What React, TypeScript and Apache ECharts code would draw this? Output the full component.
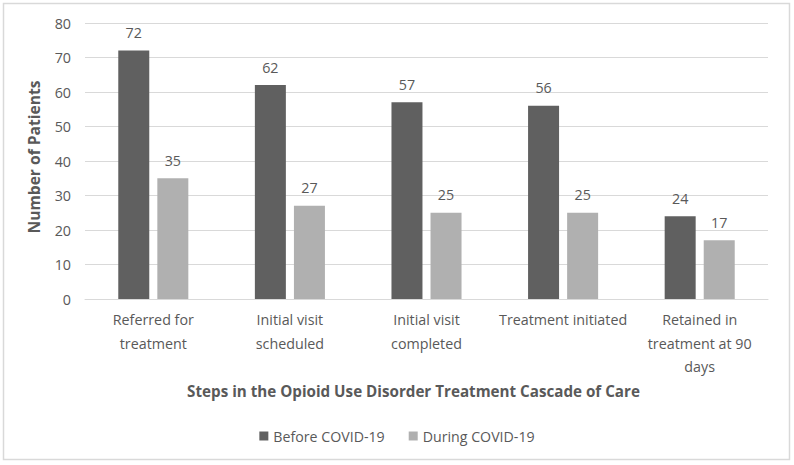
import React, { useEffect, useRef } from "react";
import * as echarts from "echarts";

const categories = [
  "Referred for\ntreatment",
  "Initial visit\nscheduled",
  "Initial visit\ncompleted",
  "Treatment initiated",
  "Retained in\ntreatment at 90\ndays",
];
const beforeCovid = [72, 62, 57, 56, 24];
const duringCovid = [35, 27, 25, 25, 17];
const seriesNames = ["Before COVID-19", "During COVID-19"];
const yTicks = { min: 0, max: 80, interval: 10 };

const FONT = "'Open Sans', sans-serif";
const TEXT = "#595959";

export default function App() {
  const ref = useRef<HTMLDivElement>(null);
  useEffect(() => {
    if (!ref.current) return;
    const chart = echarts.init(ref.current, undefined, { renderer: "svg" });
    chart.setOption({
      animation: false,
      backgroundColor: "#ffffff",
      textStyle: { fontFamily: FONT, color: TEXT },
      graphic: [
        {
          type: "rect",
          shape: { x: 3.5, y: 3.5, width: 786, height: 456 },
          style: { fill: "none", stroke: "#d9d9d9", lineWidth: 1.5 },
          silent: true,
        },
      ],
      grid: { left: 85, right: 26, top: 23, bottom: 166 },
      legend: {
        bottom: 17,
        left: "center",
        itemWidth: 9,
        itemHeight: 9,
        itemGap: 24,
        icon: "rect",
        textStyle: { fontFamily: FONT, color: TEXT, fontSize: 14.2 },
        data: seriesNames,
      },
      xAxis: {
        type: "category",
        data: categories,
        name: "Steps in the Opioid Use Disorder Treatment Cascade of Care",
        nameLocation: "middle",
        nameGap: 76,
        nameTextStyle: {
          fontFamily: FONT,
          color: TEXT,
          fontSize: 15.2,
          fontWeight: "bold",
          padding: [0, 26, 0, 0],
        },
        axisLine: { lineStyle: { color: "#d9d9d9", width: 1 } },
        axisTick: { show: false },
        axisLabel: {
          fontFamily: FONT,
          color: TEXT,
          fontSize: 14.3,
          lineHeight: 23.5,
          margin: 9,
          interval: 0,
        },
      },
      yAxis: {
        type: "value",
        min: yTicks.min,
        max: yTicks.max,
        interval: yTicks.interval,
        name: "Number of Patients",
        nameLocation: "middle",
        nameGap: 43,
        nameTextStyle: {
          fontFamily: FONT,
          color: TEXT,
          fontSize: 15.6,
          fontWeight: "bold",
          padding: [0, 0, 0, 8],
        },
        axisLine: { show: false },
        axisTick: { show: false },
        axisLabel: { fontFamily: FONT, color: TEXT, fontSize: 14.3, margin: 14 },
        splitLine: { lineStyle: { color: "#d9d9d9", width: 1 } },
      },
      series: [
        {
          name: seriesNames[0],
          type: "bar",
          data: beforeCovid,
          barWidth: 31,
          barGap: "26%",
          itemStyle: { color: "#606060" },
          label: {
            show: true,
            position: "top",
            distance: 11,
            fontFamily: FONT,
            color: TEXT,
            fontSize: 14.3,
          },
        },
        {
          name: seriesNames[1],
          type: "bar",
          data: duringCovid,
          barWidth: 31,
          barGap: "26%",
          itemStyle: { color: "#b0b0b0" },
          label: {
            show: true,
            position: "top",
            distance: 11,
            fontFamily: FONT,
            color: TEXT,
            fontSize: 14.3,
          },
        },
      ],
    });
    return () => chart.dispose();
  }, []);
  return (
    <div
      ref={ref}
      style={{ position: "fixed", left: 0, top: 0, width: 794, height: 465 }}
    />
  );
}
